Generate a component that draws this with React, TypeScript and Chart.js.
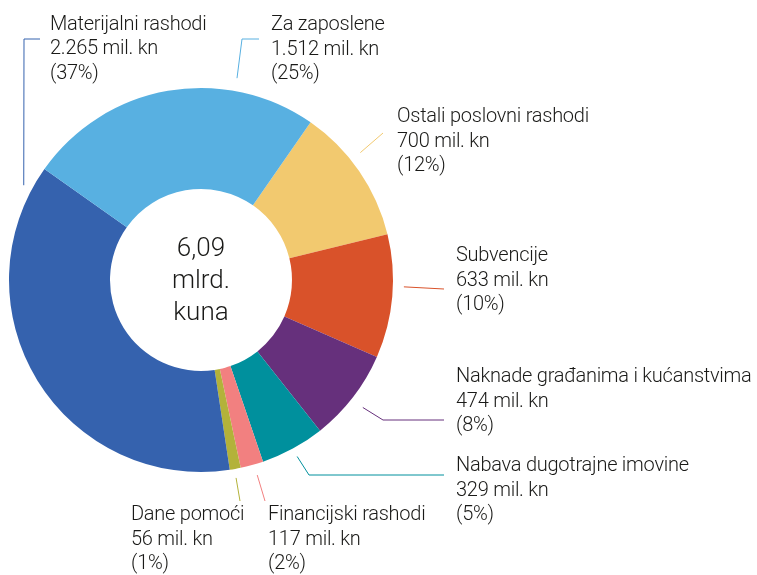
import React, { useEffect, useRef } from "react";
import { Chart, registerables } from "chart.js";
Chart.register(...registerables);

const categories = [
  "Ostali poslovni rashodi",
  "Subvencije",
  "Naknade građanima i kućanstvima",
  "Nabava dugotrajne imovine",
  "Financijski rashodi",
  "Dane pomoći",
  "Materijalni rashodi",
  "Za zaposlene",
];
const valuesMil = [700, 633, 474, 329, 117, 56, 2265, 1512];
const valueLabels = ["700", "633", "474", "329", "117", "56", "2.265", "1.512"];
const percentLabels = [12, 10, 8, 5, 2, 1, 37, 25];
const colors = ["#f2c96f", "#d9522a", "#66307c", "#00909d", "#f28080", "#b3b23a", "#3562ae", "#58b0e1"];
const centerLines = ["6,09", "mlrd.", "kuna"];

// label layout (text anchor, leader-line start fraction along arc, radial gap, elbow/end points)
const LAYOUT = [
  { tx: 397, ty: 117, frac: 0.4, gap: 12, path: [[383, 133]] },
  { tx: 456, ty: 256, frac: 0.42, gap: 11, path: [[444, 289]] },
  { tx: 456, ty: 377, frac: 0.52, gap: 14, path: [[383, 420], [444, 420]] },
  { tx: 456, ty: 466, frac: 0.5, gap: 9, path: [[309, 475], [444, 475]] },
  { tx: 268, ty: 515, frac: 0.4, gap: 11, path: [[265, 501]] },
  { tx: 131, ty: 515, frac: 0.57, gap: 9, path: [[240, 501]] },
  { tx: 50, ty: 24.5, frac: 0.946, gap: 9, path: [[24, 39], [40, 39]] },
  { tx: 271, ty: 25, frac: 0.724, gap: 13, path: [[242, 39], [259, 39]] },
];

const FONT = "300 20px Roboto";
const CENTER_FONT = "300 26px Roboto";
const TEXT_COLOR = "#1a1a18";

const labelsPlugin = {
  id: "labelsPlugin",
  afterDraw(chart: any) {
    const ctx = chart.ctx;
    const meta = chart.getDatasetMeta(0);
    ctx.save();
    meta.data.forEach((arc: any, i: number) => {
      const p = arc.getProps(["x", "y", "startAngle", "endAngle", "outerRadius"], true);
      const L = LAYOUT[i];
      const a = p.startAngle + L.frac * (p.endAngle - p.startAngle);
      const r = p.outerRadius + L.gap;
      const sx = p.x + Math.cos(a) * r;
      const sy = p.y + Math.sin(a) * r;
      ctx.strokeStyle = colors[i];
      ctx.lineWidth = 1;
      ctx.beginPath();
      ctx.moveTo(sx, sy);
      L.path.forEach(([px, py]) => ctx.lineTo(px, py));
      ctx.stroke();
      ctx.fillStyle = TEXT_COLOR;
      ctx.font = FONT;
      (ctx as any).letterSpacing = "-0.25px";
      ctx.textAlign = "left";
      ctx.textBaseline = "middle";
      const lines = [categories[i], `${valueLabels[i]} mil. kn`, `(${percentLabels[i]}%)`];
      lines.forEach((t, k) => ctx.fillText(t, L.tx, L.ty + k * 24.5));
    });
    const first = meta.data[0].getProps(["x", "y"], true);
    ctx.font = CENTER_FONT;
    (ctx as any).letterSpacing = "0px";
    ctx.textAlign = "center";
    ctx.textBaseline = "middle";
    ctx.fillStyle = TEXT_COLOR;
    centerLines.forEach((t, k) => ctx.fillText(t, first.x, first.y - 31 + k * 32));
    ctx.restore();
  },
};

export default function App() {
  const ref = useRef<HTMLCanvasElement>(null);
  useEffect(() => {
    if (!ref.current) return;
    const chart = new Chart(ref.current, {
      type: "doughnut",
      data: {
        labels: categories,
        datasets: [
          {
            data: valuesMil,
            backgroundColor: colors,
            borderWidth: 0,
          },
        ],
      },
      options: {
        responsive: false,
        animation: false,
        rotation: 34.8,
        cutout: 91,
        layout: { padding: { left: 9, top: 88, right: 364, bottom: 103 } },
        plugins: { legend: { display: false }, tooltip: { enabled: false } },
      },
      plugins: [labelsPlugin],
    });
    return () => chart.destroy();
  }, []);
  return (
    <div style={{ position: "fixed", left: 0, top: 0, width: 757, height: 575, background: "#fff" }}>
      <canvas ref={ref} width={757} height={575} style={{ width: 757, height: 575 }} />
    </div>
  );
}
